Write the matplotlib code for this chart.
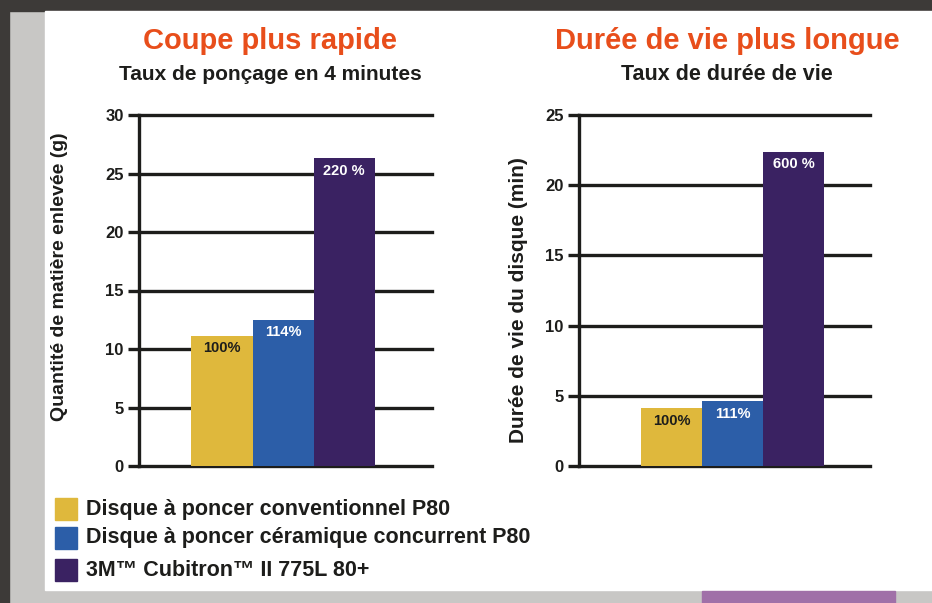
import matplotlib
matplotlib.use("Agg")
import matplotlib.pyplot as plt
from matplotlib.patches import Rectangle

# ---- data ----
products = ["Disque à poncer conventionnel P80",
            "Disque à poncer céramique concurrent P80",
            "3M™ Cubitron™ II 775L 80+"]
colors = ["#dfb83c", "#2c5ea8", "#3a2262"]
label_colors = ["#1d1d1b", "white", "white"]

left_values = [11.1, 12.5, 26.3]
left_labels = ["100%", "114%", "220 %"]
left_ticks = [0, 5, 10, 15, 20, 25, 30]

right_values = [4.1, 4.6, 22.4]
right_labels = ["100%", "111%", "600 %"]
right_ticks = [0, 5, 10, 15, 20, 25]

titles = ["Coupe plus rapide", "Durée de vie plus longue"]
subtitles = ["Taux de ponçage en 4 minutes", "Taux de durée de vie"]
ylabels = ["Quantité de matière enlevée (g)", "Durée de vie du disque (min)"]

FONT = ["Liberation Sans Narrow", "Liberation Sans", "DejaVu Sans"]
plt.rcParams['font.family'] = FONT
DARK = "#1d1d1b"
ORANGE = "#e84e1b"

W, H = 932, 603
fig = plt.figure(figsize=(W / 100, H / 100), dpi=100)
fig.patch.set_facecolor("#c8c7c5")

def px(x0, y0, x1, y1):
    return [x0 / W, 1 - y1 / H, (x1 - x0) / W, (y1 - y0) / H]

# background pieces
bg = fig.add_axes([0, 0, 1, 1], zorder=-10)
bg.set_xlim(0, W); bg.set_ylim(H, 0); bg.axis("off")
bg.add_patch(Rectangle((0, 0), W, 11, color="#3d3a38"))
bg.add_patch(Rectangle((0, 0), 9, H, color="#3d3a38"))
bg.add_patch(Rectangle((45, 11), W - 45, 579, color="white"))
bg.add_patch(Rectangle((702, 591), 193, 12, color="#a070a8"))

def panel(rect, values, labels, ticks, xlim, title, subtitle, ylabel,
          title_x, ylab_x, ylab_y, sub_size, ylab_size):
    ax = fig.add_axes(px(*rect))
    ax.set_facecolor("none")
    xs = list(range(len(values)))
    ax.bar(xs, values, width=1.0, color=colors, zorder=3)
    for x, v, lab, lc in zip(xs, values, labels, label_colors):
        ax.text(x, v - 0.45 * (ticks[-1] / 30), lab, ha="center", va="top",
                fontsize=10.5, fontweight="bold", color=lc, zorder=4)
    ax.set_ylim(0, ticks[-1])
    ax.set_xlim(*xlim)
    ax.set_yticks(ticks)
    ax.set_xticks([])
    for t in ticks:
        ax.axhline(t, color=DARK, lw=2.4, zorder=1, clip_on=False)
    for s in ["top", "right", "bottom"]:
        ax.spines[s].set_visible(False)
    ax.spines["left"].set_linewidth(2.4)
    ax.spines["left"].set_color(DARK)
    ax.spines["left"].set_zorder(2)
    ax.tick_params(axis="y", length=8, width=2.4, color=DARK, pad=3,
                   labelsize=12, labelcolor=DARK)
    for lbl in ax.get_yticklabels():
        lbl.set_fontweight("bold")
    fig.text(title_x / W, 1 - 41 / H, title, ha="center", va="center",
             fontsize=21, fontweight="bold", color=ORANGE)
    fig.text(title_x / W, 1 - 74 / H, subtitle, ha="center", va="center",
             fontsize=sub_size, fontweight="bold", color=DARK)
    fig.text(ylab_x / W, 1 - ylab_y / H, ylabel, ha="center", va="center",
             rotation=90, fontsize=ylab_size, fontweight="bold", color=DARK)
    return ax

panel((139, 115, 432, 466), left_values, left_labels, left_ticks, (-1.36, 3.44),
      titles[0], subtitles[0], ylabels[0], 270, 60, 277, 15, 14)
panel((579, 115, 870, 466), right_values, right_labels, right_ticks, (-1.52, 3.25),
      titles[1], subtitles[1], ylabels[1], 727, 518, 300, 15.5, 15)

# legend
leg_y = [509, 538, 570]
for c, name, y in zip(colors, products, leg_y):
    bg.add_patch(Rectangle((55, y - 11), 22, 22, color=c))
    bg.text(86, y, name, ha="left", va="center", fontsize=15.5,
            fontweight="bold", color=DARK)

fig.savefig("out.png", dpi=100, facecolor=fig.get_facecolor())
